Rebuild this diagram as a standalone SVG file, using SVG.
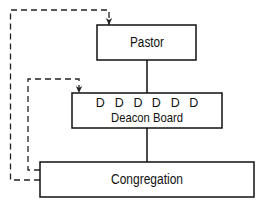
<svg xmlns="http://www.w3.org/2000/svg" width="268" height="208" viewBox="0 0 268 208">
<style>
.box{fill:#fff;stroke:#111;stroke-width:1.5}
.line{fill:none;stroke:#111;stroke-width:1.5}
.dash{fill:none;stroke:#222;stroke-width:1.3;stroke-dasharray:6 4}
text{font-family:"Liberation Sans",Arial,sans-serif;font-size:14px;fill:#111;text-anchor:middle}
</style>
<defs>
<marker id="arr" markerWidth="8" markerHeight="8" refX="7" refY="4" orient="auto" markerUnits="userSpaceOnUse">
<path d="M0,0.8 L7,4 L0,7.2 L2,4 Z" fill="#222"/>
</marker>
</defs>
<g id="connectors">
<path class="line" d="M147,60 V93"/>
<path class="line" d="M147,128 V162"/>
<path class="dash" d="M40,180 H10.5 V10 H109 V25" marker-end="url(#arr)"/>
<path class="dash" d="M40,170 H28 V79 H79 V93" marker-end="url(#arr)"/>
</g>
<g id="pastor">
<rect class="box" x="97" y="25" width="99" height="35"/>
<text x="147" y="47" textLength="34" lengthAdjust="spacingAndGlyphs">Pastor</text>
</g>
<g id="deacon-board">
<rect class="box" x="72" y="93" width="150" height="35"/>
<text x="100.3 119.3 138 156.3 175.3 193.7" y="106.5" style="font-size:12.5px">DDDDDD</text>
<text x="147" y="121.5" style="font-size:13px" textLength="72" lengthAdjust="spacingAndGlyphs">Deacon Board</text>
</g>
<g id="congregation">
<rect class="box" x="40" y="162" width="214" height="35"/>
<text x="147" y="184" textLength="72" lengthAdjust="spacingAndGlyphs">Congregation</text>
</g>
</svg>
